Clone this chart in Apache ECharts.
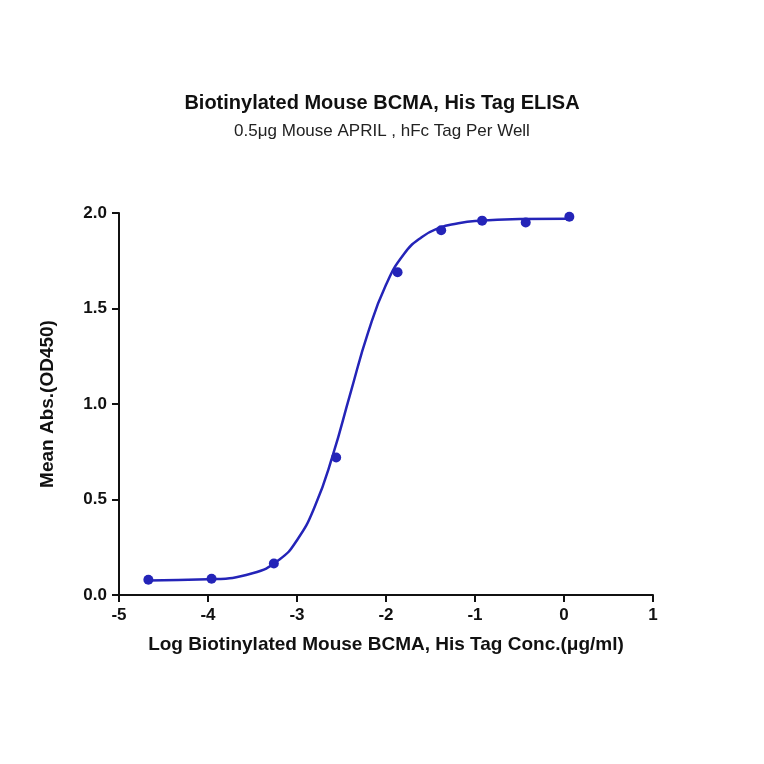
<!DOCTYPE html>
<html>
<head>
<meta charset="utf-8">
<script src="https://cdn.jsdelivr.net/npm/echarts@6/dist/echarts.min.js"></script>
<style>html,body{margin:0;padding:0;background:#fff}#c{width:764px;height:764px}</style>
</head>
<body>
<div id="c"></div>
<script>
// measured points (log conc, OD450)
var pointX = [-4.67, -3.96, -3.26, -2.56, -1.87, -1.38, -0.92, -0.43, 0.06];
var pointY = [0.08, 0.085, 0.165, 0.72, 1.69, 1.91, 1.96, 1.95, 1.98];
// fitted curve
var curveX = [-4.67, -4.0, -3.5, -3.2, -3.0, -2.8, -2.6, -2.4, -2.2, -2.0, -1.8, -1.6, -1.4, -1.2, -1.0, -0.5, 0.06];
var curveY = [0.076, 0.082, 0.114, 0.185, 0.287, 0.463, 0.728, 1.056, 1.376, 1.624, 1.784, 1.873, 1.922, 1.945, 1.958, 1.968, 1.970];

var BLUE = '#2424b8';
var chart = echarts.init(document.getElementById('c'));
var pts = pointX.map(function (x, i) { return [x, pointY[i]]; });
var crv = curveX.map(function (x, i) { return [x, curveY[i]]; });

chart.setOption({
	animation: false,
	title: {
		text: 'Biotinylated Mouse BCMA, His Tag ELISA',
		subtext: '0.5μg Mouse APRIL , hFc Tag Per Well',
		left: 'center', top: 88, itemGap: 10,
		textStyle: {fontFamily: 'Arial', fontSize: 20, fontWeight: 'bold', color: '#111'},
		subtextStyle: {fontFamily: 'Arial', fontSize: 17, color: '#222'}
	},
	grid: {left: 119, right: 111, top: 213, bottom: 169},
	xAxis: {
		type: 'value', min: -5, max: 1, interval: 1,
		name: 'Log Biotinylated Mouse BCMA, His Tag Conc.(μg/ml)',
		nameLocation: 'middle', nameGap: 40,
		nameTextStyle: {fontFamily: 'Arial', fontSize: 19, fontWeight: 'bold', color: '#111'},
		axisLine: {onZero: false, lineStyle: {color: '#111', width: 2}},
		axisTick: {length: 7, lineStyle: {color: '#111', width: 2}},
		axisLabel: {fontFamily: 'Arial', fontSize: 17, fontWeight: 'bold', color: '#111', margin: 12},
		splitLine: {show: false}
	},
	yAxis: {
		type: 'value', min: 0, max: 2, interval: 0.5,
		name: 'Mean Abs.(OD450)',
		nameLocation: 'middle', nameGap: 62,
		nameTextStyle: {fontFamily: 'Arial', fontSize: 19, fontWeight: 'bold', color: '#111'},
		axisLine: {show: true, onZero: false, lineStyle: {color: '#111', width: 2}},
		axisTick: {show: true, length: 7, lineStyle: {color: '#111', width: 2}},
		axisLabel: {fontFamily: 'Arial', fontSize: 17, fontWeight: 'bold', color: '#111', margin: 12,
			formatter: function (v) { return v.toFixed(1); }},
		splitLine: {show: false}
	},
	series: [
		{type: 'line', data: crv, smooth: true, symbol: 'none',
			lineStyle: {color: BLUE, width: 2.5}},
		{type: 'scatter', data: pts, symbolSize: 10,
			itemStyle: {color: BLUE, opacity: 1}}
	]
});
</script>
</body>
</html>
